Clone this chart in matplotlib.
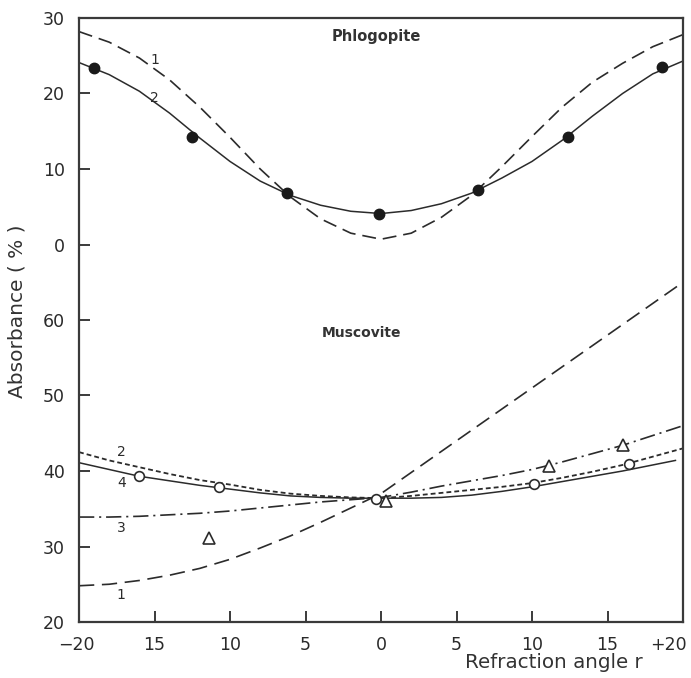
import matplotlib
matplotlib.use("Agg")
import matplotlib.pyplot as plt
from matplotlib.transforms import ScaledTranslation

# ---------------- data ----------------
angle = [-20, -18, -16, -14, -12, -10, -8, -6, -4, -2, 0, 2, 4, 6, 8, 10, 12, 14, 16, 18, 20]

# Phlogopite (upper panel, absorbance %)
phl_curve1 = [28.2, 26.8, 24.7, 21.8, 18.2, 14.2, 10.0, 6.3, 3.4, 1.5, 0.7, 1.5, 3.6, 6.5, 10.3, 14.3, 18.2, 21.5, 24.0, 26.2, 27.8]
phl_curve2 = [24.1, 22.5, 20.3, 17.4, 14.1, 11.0, 8.4, 6.5, 5.2, 4.4, 4.1, 4.5, 5.4, 6.8, 8.8, 11.0, 13.8, 17.0, 20.0, 22.6, 24.3]
phl_pts_x = [-19.0, -12.5, -6.2, -0.1, 6.4, 12.4, 18.6]
phl_pts_y = [23.4, 14.2, 6.8, 4.1, 7.2, 14.3, 23.5]

# Muscovite (lower panel, absorbance %)
mus_curve1 = [24.8, 25.0, 25.5, 26.2, 27.1, 28.3, 29.8, 31.4, 33.2, 35.1, 37.0, 39.8, 42.6, 45.4, 48.2, 51.0, 53.8, 56.6, 59.4, 62.2, 65.0]
mus_curve2 = [42.5, 41.4, 40.5, 39.6, 38.8, 38.2, 37.5, 37.0, 36.7, 36.5, 36.4, 36.7, 37.1, 37.5, 37.9, 38.4, 39.1, 39.9, 40.8, 41.9, 43.0]
mus_curve3 = [33.9, 33.9, 34.0, 34.2, 34.4, 34.7, 35.1, 35.5, 35.9, 36.2, 36.5, 37.2, 38.0, 38.7, 39.4, 40.2, 41.2, 42.3, 43.4, 44.7, 46.0]
angle4 = [-20, -18, -16, -14, -12, -10, -8, -6, -4, -2, 0, 2, 4, 6, 8, 10, 12, 14, 16, 18, 19.5]
mus_curve4 = [41.1, 40.2, 39.3, 38.7, 38.1, 37.6, 37.1, 36.7, 36.5, 36.4, 36.4, 36.4, 36.5, 36.8, 37.3, 37.9, 38.6, 39.3, 40.0, 40.8, 41.4]
mus_circ_x = [-16.0, -10.7, -0.3, 10.1, 16.4]
mus_circ_y = [39.3, 37.9, 36.3, 38.3, 40.9]
mus_tri_x = [-11.4, 0.3, 11.1, 16.0]
mus_tri_y = [31.1, 36.0, 40.7, 43.5]

x_ticks = [-20, -15, -10, -5, 0, 5, 10, 15, 20]
x_ticklabels = ["\u221220", "15", "10", "5", "0", "5", "10", "15", "+20"]
y_tick_pos = [20, 30, 40, 50, 60, 70, 80, 90, 100]
y_ticklabels = ["20", "30", "40", "50", "60", "0", "10", "20", "30"]
UPPER_OFFSET = 70  # upper panel value v is drawn at v + 70

# ---------------- figure ----------------
plt.rcParams['font.family'] = ['DejaVu Sans']
plt.rcParams['lines.scale_dashes'] = False
ink = '#2b2b2b'

fig = plt.figure(figsize=(6.91, 6.78), dpi=100)
ax = fig.add_axes([79/691, 1-622/678, (683-79)/691, (622-18)/678])

up = lambda vals: [v + UPPER_OFFSET for v in vals]

# Phlogopite
ax.plot(angle, up(phl_curve1), color=ink, lw=1.2, linestyle=(0, (10, 5)))
ax.plot(angle, up(phl_curve2), color=ink, lw=1.1)
ax.plot(phl_pts_x, up(phl_pts_y), 'o', color='#1a1a1a', ms=7.5, ls='none')

# Muscovite
ax.plot(angle, mus_curve1, color=ink, lw=1.2, linestyle=(0, (11, 5.5)))
ax.plot(angle, mus_curve2, color=ink, lw=1.3, linestyle=(0, (3.5, 2.2)))
ax.plot(angle, mus_curve3, color=ink, lw=1.2, linestyle=(0, (11, 3.5, 1.5, 3.5)))
ax.plot(angle4, mus_curve4, color=ink, lw=1.1)
ax.plot(mus_circ_x, mus_circ_y, 'o', mfc='white', mec=ink, mew=1.2, ms=7, ls='none')
ax.plot(mus_tri_x, mus_tri_y, '^', mfc='white', mec=ink, mew=1.2, ms=8, ls='none')

ax.set_xlim(-20, 20)
ax.set_ylim(20, 100)
ax.set_xticks(x_ticks)
ax.set_xticklabels(x_ticklabels)
ax.set_yticks(y_tick_pos)
ax.set_yticklabels(y_ticklabels)

for side in ['top', 'right', 'left', 'bottom']:
    ax.spines[side].set_linewidth(1.6)
    ax.spines[side].set_color('#3a3a3a')
ax.tick_params(axis='both', direction='in', length=8, width=1.4, color='#3a3a3a',
               labelsize=12.5, labelcolor='#2a2a2a')
ax.tick_params(axis='y', pad=10)
ax.tick_params(axis='x', pad=10)

# shift the end labels so they stay inside the figure like the original
xtl = ax.get_xticklabels()
xtl[0].set_transform(xtl[0].get_transform() + ScaledTranslation(-3/100, 0, fig.dpi_scale_trans))
xtl[-1].set_transform(xtl[-1].get_transform() + ScaledTranslation(-15/100, 0, fig.dpi_scale_trans))

# Annotations
ax.text(-0.3, 97.6, "Phlogopite", ha='center', va='center', fontsize=10.5, fontweight='bold', color='#333333')
ax.text(-1.3, 58.3, "Muscovite", ha='center', va='center', fontsize=10, fontweight='bold', color='#333333')
ax.text(-15.0, 94.4, "1", ha='center', va='center', fontsize=10, color=ink)
ax.text(-15.0, 89.4, "2", ha='center', va='center', fontsize=10, color=ink)
ax.text(-17.2, 42.5, "2", ha='center', va='center', fontsize=10, color=ink)
ax.text(-17.2, 38.4, "4", ha='center', va='center', fontsize=10, color=ink)
ax.text(-17.2, 32.5, "3", ha='center', va='center', fontsize=10, color=ink)
ax.text(-17.2, 23.6, "1", ha='center', va='center', fontsize=10, color=ink)

fig.text(17/691, 1-311/678, "Absorbance ( % )", rotation=90, ha='center', va='center',
         fontsize=14.5, color='#333333')
fig.text(554/691, 1-662/678, "Refraction angle r", ha='center', va='center',
         fontsize=14.3, color='#333333')

fig.savefig("out.png", dpi=100)
